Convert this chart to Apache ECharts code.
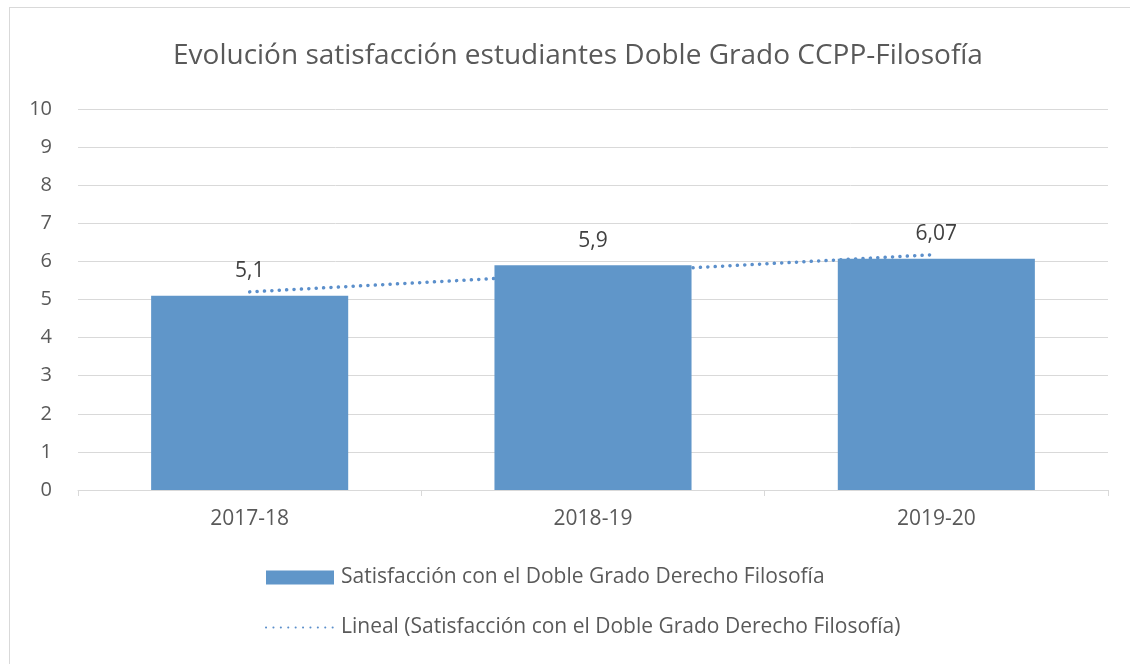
<!DOCTYPE html>
<html>
<head>
<meta charset="utf-8">
<script src="https://cdn.jsdelivr.net/npm/echarts@6/dist/echarts.min.js"></script>
<style>
    html, body { margin: 0; padding: 0; background: #fff; }
    #frame { position: absolute; left: 9px; top: 7px; width: 1130px; height: 670px; border: 1px solid #d9d9d9; box-sizing: border-box; }
    #main { position: absolute; left: 0; top: 0; width: 1130px; height: 664px; }
</style>
</head>
<body>
<div id="frame"></div>
<div id="main"></div>
<script>
var cursos = ['2017-18', '2018-19', '2019-20'];
var satisfaccion = [5.1, 5.9, 6.07];
// tendencia lineal
var tendencia = [5.2, 5.69, 6.18];
var yTicks = [0, 1, 2, 3, 4, 5, 6, 7, 8, 9, 10];

var serieBarra = 'Satisfacción con el Doble Grado Derecho Filosofía';
var serieLinea = 'Lineal (Satisfacción con el Doble Grado Derecho Filosofía)';

window.onload = function () {
    var chart = echarts.init(document.getElementById('main'));
    var fuente = '"Open Sans", sans-serif';
    var option = {
        animation: false,
        title: {
            text: 'Evolución satisfacción estudiantes Doble Grado CCPP-Filosofía',
            left: 168,
            top: 37,
            textStyle: { color: '#595959', fontSize: 28, fontWeight: 'normal', fontFamily: fuente }
        },
        grid: { left: 78, right: 22, top: 109, bottom: 174 },
        legend: {
            orient: 'vertical',
            left: 265,
            top: 567,
            padding: 0,
            itemWidth: 68,
            itemHeight: 14,
            itemGap: 29,
            textStyle: { color: '#595959', fontSize: 21, fontFamily: fuente, padding: [0, 0, 0, 2] },
            data: [
                { name: serieBarra, icon: 'rect' },
                { name: serieLinea, itemStyle: { opacity: 0 } }
            ]
        },
        xAxis: {
            type: 'category',
            data: cursos,
            axisLine: { lineStyle: { color: '#d9d9d9', width: 1 } },
            axisTick: { show: true, length: 6, lineStyle: { color: '#d9d9d9' } },
            axisLabel: { color: '#595959', fontSize: 21, fontFamily: fuente, margin: 19 }
        },
        yAxis: {
            type: 'value',
            min: yTicks[0],
            max: yTicks[yTicks.length - 1],
            interval: 1,
            axisLine: { show: false },
            axisTick: { show: false },
            splitLine: { lineStyle: { color: '#d9d9d9', width: 1 } },
            axisLabel: { color: '#595959', fontSize: 20, fontFamily: fuente, margin: 26 }
        },
        series: [
            {
                name: serieLinea,
                type: 'line',
                data: tendencia,
                symbol: 'none',
                z: 1,
                lineStyle: { color: '#5b8fcb', width: 3.5, type: [0.1, 7.3], cap: 'round' }
            },
            {
                name: serieBarra,
                type: 'bar',
                data: satisfaccion,
                barWidth: '57.4%',
                z: 2,
                itemStyle: { color: '#6096c9' },
                label: {
                    show: true,
                    position: 'top',
                    distance: 14,
                    color: '#404040',
                    fontSize: 21,
                    fontFamily: fuente,
                    formatter: function (p) { return String(p.value).replace('.', ','); }
                }
            }
        ]
    };
    chart.setOption(option);
};
</script>
</body>
</html>
